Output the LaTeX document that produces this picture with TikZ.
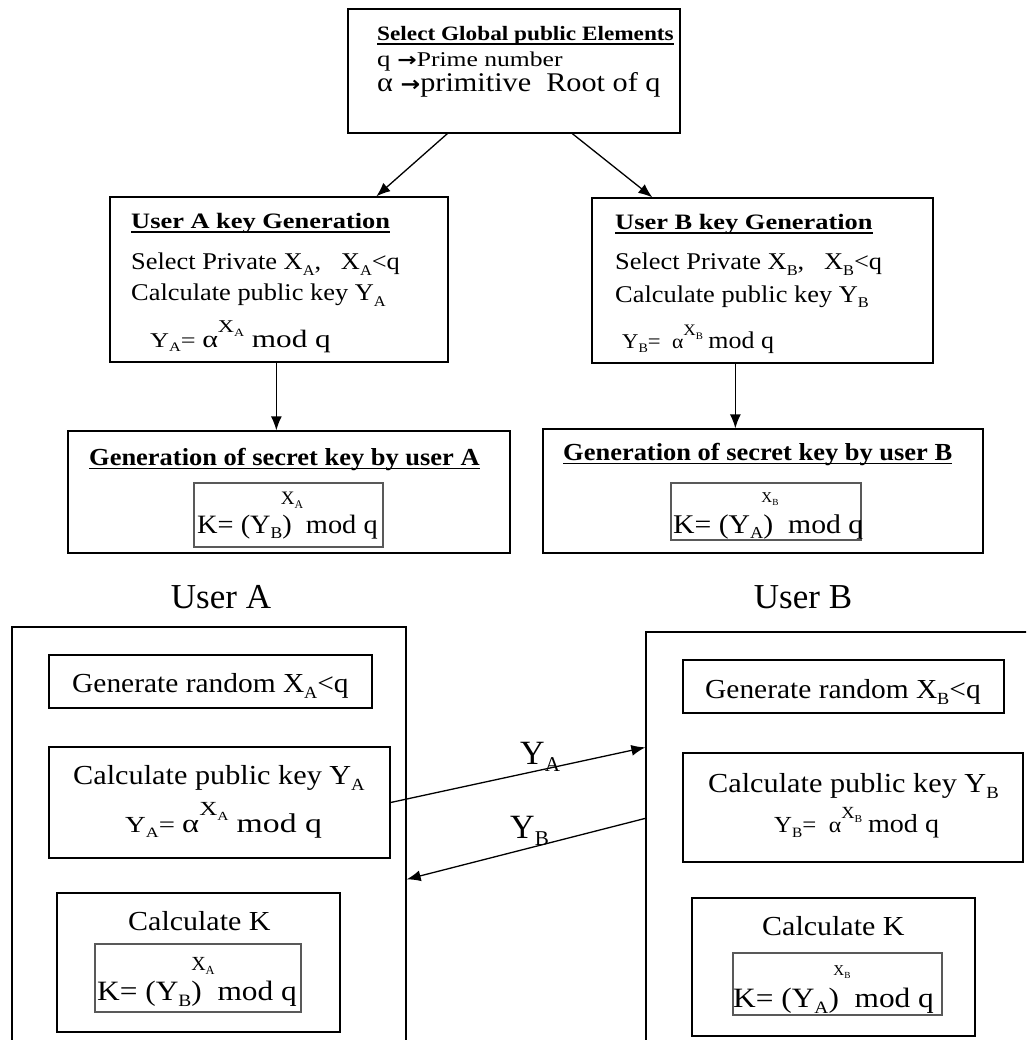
\documentclass[tikz,border=0pt]{standalone}
\usepackage{fontspec}
\setmainfont{Liberation Serif}
\newfontfamily\arrowfont{DejaVu Sans}
\usetikzlibrary{arrows.meta,fit,calc}

% font size helper, horizontal stretch, subscripts and the raised exponent X_?
\newcommand{\fs}[1]{\fontsize{#1}{#1}\selectfont}
\newcommand{\hs}[2]{\scalebox{#1}[1]{#2}}
\newcommand{\sub}[1]{\raisebox{-0.22em}{\scalebox{0.62}{#1}}}
\newcommand{\xsup}[2]{\raisebox{0.62em}{\fs{#2}X\sub{#1}}}
\newcommand{\rarr}[1]{{\arrowfont\bfseries\fs{#1}→}}

\begin{document}
\begin{tikzpicture}[x=1pt, y=-1pt,
  box/.style={draw, line width=1.3pt, inner sep=0pt},
  fbox/.style={draw=black!65, line width=1.1pt, inner sep=0pt},
  txt/.style={inner sep=0pt, anchor=base west},
  ctxt/.style={inner sep=0pt, anchor=base},
  uline/.style={line width=1.6pt},
  arr/.style={-{Latex[length=14pt,width=11pt]}, line width=1.3pt}]

\useasboundingbox (0,0) rectangle (1026,1040);
\clip (0,0) rectangle (1026,1040);

% ---------- upper flow: parameters and key generation ----------
\node[box, fit={(348,9)(680,133)}]   (gpe) {};
\node[box, fit={(110,197)(448,362)}] (ukA) {};
\node[box, fit={(592,198)(933,363)}] (ukB) {};
\node[box, fit={(68,431)(510,553)}]  (genA) {};
\node[box, fit={(543,429)(983,553)}] (genB) {};
\node[fbox, fit={(194,483)(383,547)}] (kA) {};
\node[fbox, fit={(671,483)(861,540)}] (kB) {};

\node[txt] (gpeT) at (377,41) {\hs{1.14}{\fs{20.4}\bfseries Select Global public Elements}};
\draw[uline] ($(gpeT.base west)+(0,3)$) -- ($(gpeT.base east)+(0,3)$);
\node[txt] (gpeQ) at (377,67) {\hs{1.22}{\fs{22}q \rarr{19}\fs{21}Prime number}};
\node[txt] (gpeR) at (377,92) {\hs{1.12}{\fs{27}α \rarr{21}primitive\ \ Root of q}};

\node[txt] (kgAt) at (131,229) {\hs{1.2}{\fs{22}\bfseries User A key Generation}};
\draw[uline] ($(kgAt.base west)+(0,3)$) -- ($(kgAt.base east)+(0,3)$);
\node[txt] (kgA1) at (131,270) {\hs{1.1}{\fs{24}Select Private X\sub{A},\ \ \ X\sub{A}<q}};
\node[txt] (kgA2) at (131,301) {\hs{1.1}{\fs{24}Calculate public key Y\sub{A}}};
\node[txt] (kgA3) at (150,347) {\hs{1.25}{\fs{21}Y\sub{A}=\ \fs{24}α\xsup{A}{18}\ \fs{25}mod q}};

\node[txt] (kgBt) at (615,230) {\hs{1.2}{\fs{22}\bfseries User B key Generation}};
\draw[uline] ($(kgBt.base west)+(0,3)$) -- ($(kgBt.base east)+(0,3)$);
\node[txt] (kgB1) at (615,270) {\hs{1.1}{\fs{24}Select Private X\sub{B},\ \ \ X\sub{B}<q}};
\node[txt] (kgB2) at (615,302) {\hs{1.1}{\fs{24}Calculate public key Y\sub{B}}};
\node[txt] (kgB3) at (622,348) {\hs{1.08}{\fs{21}Y\sub{B}=\ \ \fs{20}α\xsup{B}{16}\ \fs{24}mod q}};

\node[txt] (gAt) at (89,465) {\hs{1.08}{\fs{24.5}\bfseries Generation of secret key by user A}};
\draw[uline] ($(gAt.base west)+(0,3.5)$) -- ($(gAt.base east)+(0,3.5)$);
\node[ctxt] (gAs) at (292,504) {\fs{19}X\sub{A}};
\node[txt]  (gAf) at (197,533) {\hs{1.07}{\fs{26.5}K= (Y\sub{B})\ \ mod q}};

\node[txt] (gBt) at (563,460) {\hs{1.08}{\fs{24.5}\bfseries Generation of secret key by user B}};
\draw[uline] ($(gBt.base west)+(0,3.5)$) -- ($(gBt.base east)+(0,3.5)$);
\node[ctxt] (gBs) at (770,502) {\fs{15}X\sub{B}};
\node[txt]  (gBf) at (673,533) {\hs{1.1}{\fs{27}K= (Y\sub{A})\ \ mod q}};

\draw[arr] ($(gpe.south west)+(100,0)$) -- ($(ukA.north west)+(267,0)$);
\draw[arr] ($(gpe.south west)+(225,0)$) -- ($(ukB.north west)+(61,0)$);
\draw[arr] ($(ukA.south west)+(167,0)$) -- ($(genA.north west)+(209,0)$);
\draw[arr] ($(ukB.south west)+(144,0)$) -- ($(genB.north west)+(193,0)$);

% ---------- lower flow: the exchange between the two users ----------
\node[ctxt] (uA) at (221,608) {\fs{35}User A};
\node[ctxt] (uB) at (803,608) {\fs{35}User B};

\node[box, fit={(12,627)(406,1060)}]  (bigA) {};
\node[box, fit={(646,632)(1060,1060)}] (bigB) {};

\node[box, fit={(49,655)(372,708)}]  (rA) {};
\node[box, fit={(49,747)(390,858)}]  (pA) {};
\node[box, fit={(57,893)(340,1032)}] (cA) {};
\node[fbox, fit={(95,944)(301,1012)}] (cAk) {};

\node[box, fit={(683,660)(1004,713)}] (rB) {};
\node[box, fit={(683,753)(1023,862)}] (pB) {};
\node[box, fit={(692,898)(975,1036)}] (cB) {};
\node[fbox, fit={(733,953)(942,1015)}] (cBk) {};

\node[txt] (rAt)  at (72,692)  {\hs{1.07}{\fs{27.5}Generate random X\sub{A}<q}};
\node[txt] (pA1)  at (73,784)  {\hs{1.1}{\fs{27.5}Calculate public key Y\sub{A}}};
\node[txt] (pA2)  at (125,832) {\hs{1.25}{\fs{23}Y\sub{A}=\ \fs{26}α\xsup{A}{20}\ \fs{27}mod q}};
\node[txt] (cAt)  at (128,930) {\hs{1.09}{\fs{27.5}Calculate K}};
\node[ctxt] (cAs) at (203,970) {\fs{20}X\sub{A}};
\node[txt] (cAf)  at (97,1000) {\hs{1.12}{\fs{28}K= (Y\sub{B})\ \ mod q}};

\node[txt] (rBt)  at (705,698) {\hs{1.07}{\fs{27.5}Generate random X\sub{B}<q}};
\node[txt] (pB1)  at (708,792) {\hs{1.1}{\fs{27.5}Calculate public key Y\sub{B}}};
\node[txt] (pB2)  at (774,832) {\hs{1.08}{\fs{23}Y\sub{B}=\ \ \fs{22}α\xsup{B}{17}\ \fs{26}mod q}};
\node[txt] (cBt)  at (762,935) {\hs{1.09}{\fs{27.5}Calculate K}};
\node[ctxt] (cBs) at (842,975) {\fs{15}X\sub{B}};
\node[txt] (cBf)  at (733,1007) {\hs{1.12}{\fs{28}K= (Y\sub{A})\ \ mod q}};

\draw[arr] (pA.east) -- ($(bigB.north west)+(0,116)$);
\draw[arr] ($(bigB.north west)+(0,187)$) -- ($(bigA.north east)+(0,253)$);
\node[txt] (lYA) at (520,764) {\fs{34}Y\sub{A}};
\node[txt] (lYB) at (510,838) {\fs{34}Y\sub{B}};

\end{tikzpicture}
\end{document}
